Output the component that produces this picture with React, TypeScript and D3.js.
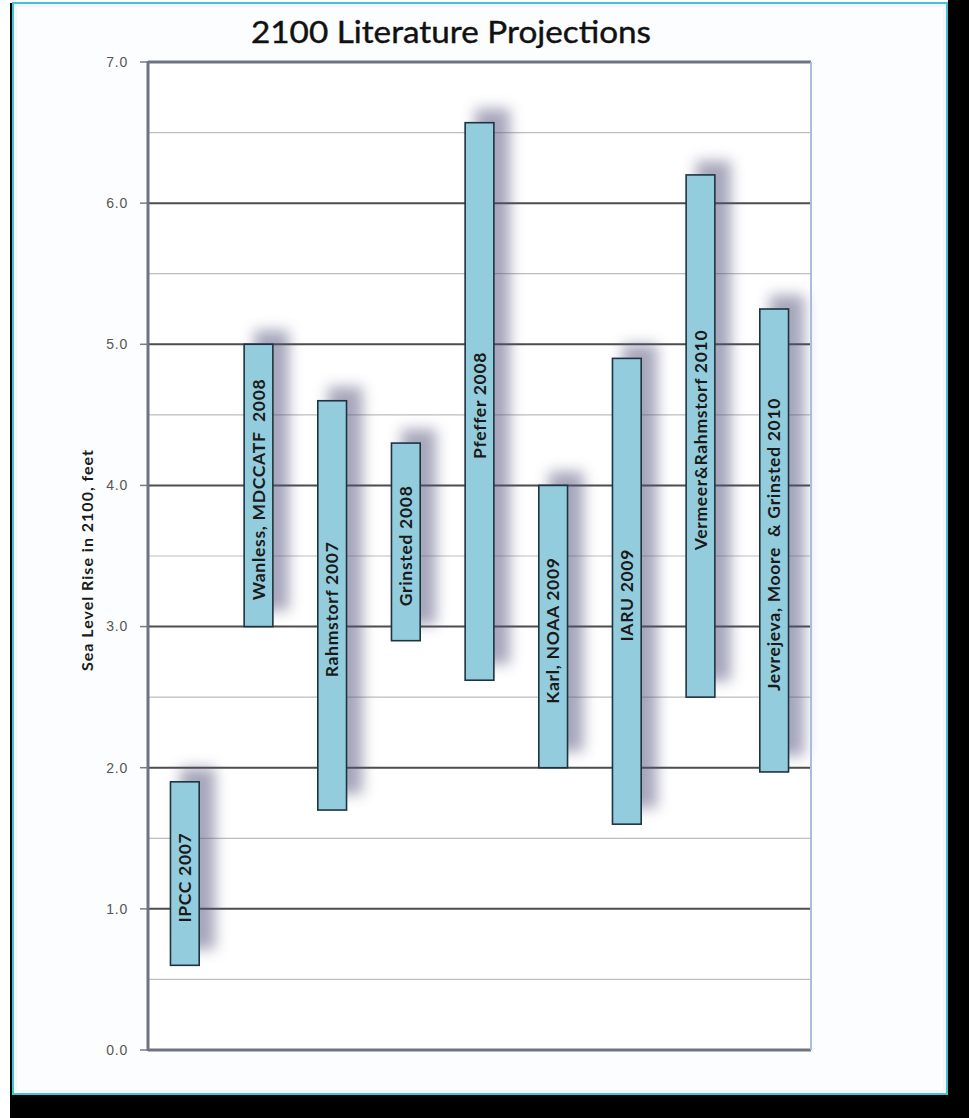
import React from "react";
import * as d3 from "d3";

const categories = [
  "IPCC 2007",
  "Wanless, MDCCATF  2008",
  "Rahmstorf 2007",
  "Grinsted 2008",
  "Pfeffer 2008",
  "Karl, NOAA 2009",
  "IARU 2009",
  "Vermeer&Rahmstorf 2010",
  "Jevrejeva, Moore  & Grinsted 2010",
];
const lowValues = [0.6, 3.0, 1.7, 2.9, 2.62, 2.0, 1.6, 2.5, 1.97];
const highValues = [1.9, 5.0, 4.6, 4.3, 6.57, 4.0, 4.9, 6.2, 5.25];
const majorTicks = [0, 1, 2, 3, 4, 5, 6, 7];
const minorTicks = [0.5, 1.5, 2.5, 3.5, 4.5, 5.5, 6.5];
const title = "2100 Literature Projections";
const yTitle = "Sea Level Rise in 2100, feet";

const W = 969;
const H = 1118;
const L = 148;
const R = 811;
const T = 62;
const B = 1050;

export default function App() {
  const x = d3.scaleBand<string>().domain(categories).range([L, R]).padding(0);
  const y = d3.scaleLinear().domain([0, 7]).range([B, T]);
  const bw = x.bandwidth() * 0.39;
  const fmt = d3.format(".1f");
  return (
    <svg
      width={W}
      height={H}
      style={{ position: "absolute", left: 0, top: 0, display: "block" }}
      xmlns="http://www.w3.org/2000/svg"
    >
      <defs>
        <filter id="sh" x="-100%" y="-20%" width="300%" height="140%">
          <feGaussianBlur stdDeviation="7" />
        </filter>
      </defs>
      <rect x={0} y={0} width={W} height={H} fill="#ffffff" />
      <rect x={10} y={0} width={W - 10} height={H} fill="#000000" />
      <rect x={0} y={0} width={948} height={3} fill="#ffffff" />
      <rect x={13} y={3} width={934} height={1091} fill="#fcfdff" stroke="#3ec6d6" strokeWidth={2} />
      <rect x={16} y={6} width={928} height={1085} fill="none" stroke="#f1f6fa" strokeWidth={2} />

      <text
        x={451}
        y={43}
        textAnchor="middle"
        fontFamily="Lato, 'Open Sans', sans-serif"
        fontSize={31}
        fill="#111"
        textLength={400}
        lengthAdjust="spacingAndGlyphs"
        stroke="#111"
        strokeWidth={0.4}
      >
        {title}
      </text>

      <rect x={L} y={T} width={R - L} height={B - T} fill="#ffffff" />

      {minorTicks.map((t) => (
        <line key={"mn" + t} x1={L} x2={R} y1={y(t)} y2={y(t)} stroke="#bdbdbd" strokeWidth={1.2} />
      ))}
      {majorTicks.map((t) => (
        <line key={"mj" + t} x1={L} x2={R} y1={y(t)} y2={y(t)} stroke="#4d4d4d" strokeWidth={2} />
      ))}

      {majorTicks.map((t) => (
        <g key={"tk" + t}>
          <line x1={140} x2={L} y1={y(t)} y2={y(t)} stroke="#777a88" strokeWidth={1.5} />
          <text
            x={128}
            y={y(t)}
            dy="0.35em"
            textAnchor="end"
            fontFamily="'Liberation Sans', Arial, sans-serif"
            fontSize={14}
            letterSpacing={0.8}
            fill="#555"
          >
            {fmt(t)}
          </text>
        </g>
      ))}

      {categories.map((c, i) => {
        const cx = (x(c) as number) + x.bandwidth() / 2;
        const y0 = y(highValues[i]);
        const y1 = y(lowValues[i]);
        return (
          <rect
            key={"s" + i}
            x={cx - bw / 2 + 10}
            y={y0 - 14}
            width={bw + 6}
            height={y1 - y0 - 2}
            fill="#50507a"
            opacity={0.5}
            filter="url(#sh)"
          />
        );
      })}

      {categories.map((c, i) => {
        const cx = (x(c) as number) + x.bandwidth() / 2;
        const y0 = y(highValues[i]);
        const y1 = y(lowValues[i]);
        return (
          <g key={"b" + i}>
            <rect
              x={cx - bw / 2}
              y={y0}
              width={bw}
              height={y1 - y0}
              fill="#93cddd"
              stroke="#1e3340"
              strokeWidth={1.6}
            />
            <text
              transform={`translate(${cx},${(y0 + y1) / 2 + 4}) rotate(-90)`}
              textAnchor="middle"
              dy="0.36em"
              fontFamily="Lato, 'Open Sans', sans-serif"
              fontWeight="bold"
              fontSize={17.5}
              letterSpacing={0.7}
              fill="#1a1a1a"
              style={{ whiteSpace: "pre" }}
            >
              {c}
            </text>
          </g>
        );
      })}

      <line x1={L} x2={L} y1={T - 1} y2={B + 1} stroke="#6e7283" strokeWidth={3} />
      <line x1={L} x2={R} y1={T} y2={T} stroke="#6e7283" strokeWidth={3} />
      <line x1={L} x2={R} y1={B} y2={B} stroke="#6e7283" strokeWidth={3} />
      <line x1={R} x2={R} y1={T} y2={B} stroke="#a7bfdc" strokeWidth={2} />

      <text
        transform={`translate(93,${(T + B) / 2 + 4}) rotate(-90)`}
        textAnchor="middle"
        fontFamily="Lato, 'Open Sans', sans-serif"
        fontWeight="bold"
        fontSize={16}
        letterSpacing={1}
        fill="#1a1a1a"
      >
        {yTitle}
      </text>
    </svg>
  );
}
